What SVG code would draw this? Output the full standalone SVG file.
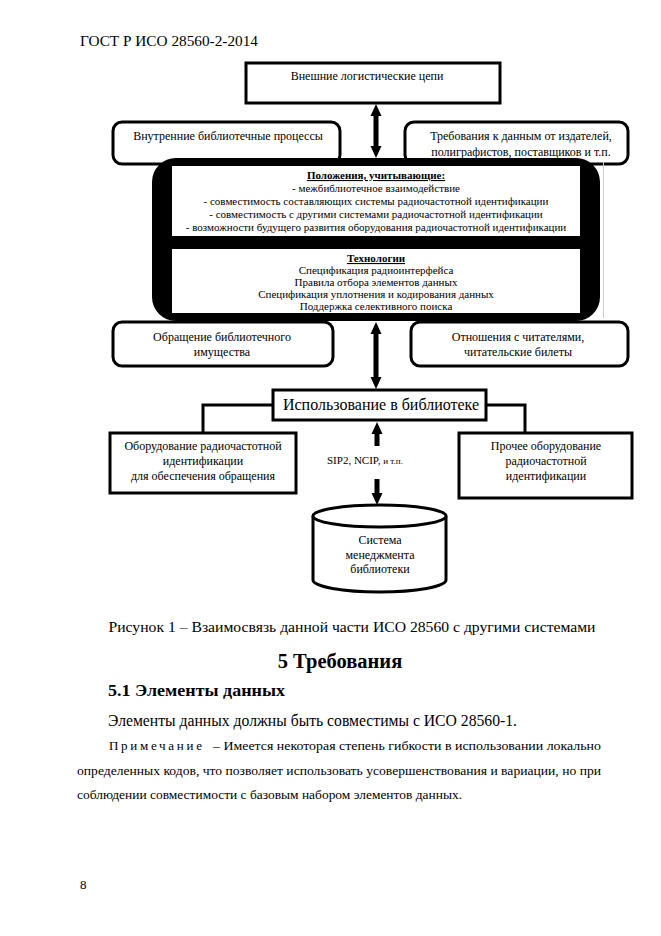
<svg xmlns="http://www.w3.org/2000/svg" width="661" height="936" viewBox="0 0 661 936" font-family="'Liberation Serif', 'Times New Roman', Tinos, 'DejaVu Serif', serif">
<style>
text{font-family:'Liberation Serif','Times New Roman',Tinos,'DejaVu Serif',serif;fill:#000}
.box{fill:#fff;stroke:#000;stroke-width:3}
.ln{fill:none;stroke:#000;stroke-width:3}
.s11{font-size:11px}
.s12{font-size:12px}
.c{text-anchor:middle}
.arr{fill:#000;stroke:none}
</style>
<rect width="661" height="936" fill="#fff"/>

<text x="80" y="46" font-size="15" textLength="178" lengthAdjust="spacingAndGlyphs">ГОСТ Р ИСО 28560-2-2014</text>

<g id="external">
<rect class="box" x="246" y="63" width="254" height="40"/>
<text class="s12 c" x="367" y="80">Внешние логистические цепи</text>
</g>

<g id="internal">
<rect class="box" x="113" y="122" width="227" height="42" rx="9"/>
<text class="s12 c" x="228" y="140">Внутренние библиотечные процессы</text>
</g>

<g id="publishers">
<rect class="box" x="405" y="122" width="223" height="42" rx="9"/>
<text class="s12 c" x="521" y="140">Требования к данным от издателей,</text>
<text class="s12 c" x="521" y="156">полиграфистов, поставщиков и т.п.</text>
</g>

<g id="core">
<rect x="603" y="162" width="1" height="156" fill="#ccc"/>
<rect x="152" y="158" width="448" height="163" rx="24" fill="#000"/>
<rect x="172" y="166" width="408" height="70" fill="#fff"/>
<rect x="172" y="249" width="408" height="64" fill="#fff"/>
<text class="s11 c" x="376" y="179" font-weight="bold" text-decoration="underline">Положения, учитывающие:</text>
<text class="s11 c" x="376" y="192">- межбиблиотечное взаимодействие</text>
<text class="s11 c" x="376" y="205">- совместимость составляющих системы радиочастотной идентификации</text>
<text class="s11 c" x="376" y="218">- совместимость с другими системами радиочастотной идентификации</text>
<text class="s11 c" x="376" y="231">- возможности будущего развития оборудования радиочастотной идентификации</text>
<text class="s11 c" x="376" y="262" font-weight="bold" text-decoration="underline">Технологии</text>
<text class="s11 c" x="376" y="274">Спецификация радиоинтерфейса</text>
<text class="s11 c" x="376" y="286">Правила отбора элементов данных</text>
<text class="s11 c" x="376" y="298">Спецификация уплотнения и кодирования данных</text>
<text class="s11 c" x="376" y="310">Поддержка селективного поиска</text>
</g>

<g id="circulation">
<rect class="box" x="113" y="322" width="220" height="44" rx="9"/>
<text class="s12 c" x="222" y="341">Обращение библиотечного</text>
<text class="s12 c" x="222" y="356">имущества</text>
</g>

<g id="patrons">
<rect class="box" x="411" y="322" width="217" height="44" rx="9"/>
<text class="s12 c" x="518" y="341">Отношения с читателями,</text>
<text class="s12 c" x="518" y="356">читательские билеты</text>
</g>

<g id="usage">
<rect class="box" x="273" y="390" width="213" height="30"/>
<text class="c" x="381" y="410" font-size="16">Использование в библиотеке</text>
</g>

<g id="rfid-circulation">
<rect class="box" x="110" y="433" width="186" height="60"/>
<text class="s12 c" x="203" y="450">Оборудование радиочастотной</text>
<text class="s12 c" x="203" y="465">идентификации</text>
<text class="s12 c" x="203" y="480">для обеспечения обращения</text>
</g>

<g id="rfid-other">
<rect class="box" x="459" y="433" width="173" height="65"/>
<text class="s12 c" x="546" y="450">Прочее оборудование</text>
<text class="s12 c" x="546" y="465">радиочастотной</text>
<text class="s12 c" x="546" y="480">идентификации</text>
</g>

<g id="lms">
<path class="box" d="M313,516 L313,580 A66.5,12 0 0 0 446,580 L446,516"/>
<ellipse class="box" cx="379.5" cy="516" rx="66.5" ry="11"/>
<text class="s12 c" x="380" y="544">Система</text>
<text class="s12 c" x="380" y="559">менеджмента</text>
<text class="s12 c" x="380" y="573">библиотеки</text>
</g>

<g id="connectors">
<polygon class="arr" points="376,104 381.5,116 378.5,116 378.5,146 381.5,146 376,158 370.5,146 373.5,146 373.5,116 370.5,116"/>
<polygon class="arr" points="376,322 381.5,334 378.5,334 378.5,377 381.5,377 376,389 370.5,377 373.5,377 373.5,334 370.5,334"/>
<polyline class="ln" points="203,433 203,405 273,405"/>
<polyline class="ln" points="486,405 525,405 525,433"/>
<polygon class="arr" points="377,422 382.5,434 379.5,434 379.5,446 374.5,446 374.5,434 371.5,434"/>
<polygon class="arr" points="374.5,479 379.5,479 379.5,493 382.5,493 377,505 371.5,493 374.5,493"/>
<text x="327" y="464" font-size="11">SIP2, NCIP, <tspan font-size="9">и т.п.</tspan></text>
</g>

<text class="c" x="352" y="632" font-size="15" textLength="487" lengthAdjust="spacingAndGlyphs">Рисунок 1 – Взаимосвязь данной части ИСО 28560 с другими системами</text>
<text class="c" x="340" y="668" font-size="20.5" font-weight="bold">5 Требования</text>
<text x="108" y="696" font-size="17.5" font-weight="bold" textLength="177" lengthAdjust="spacingAndGlyphs">5.1 Элементы данных</text>
<text x="108" y="726" font-size="16" textLength="409" lengthAdjust="spacingAndGlyphs">Элементы данных должны быть совместимы с ИСО 28560-1.</text>
<text x="109" y="750" font-size="13" textLength="93" lengthAdjust="spacing">Примечание</text>
<text x="213" y="750" font-size="13" textLength="388" lengthAdjust="spacingAndGlyphs">– Имеется некоторая степень гибкости в использовании локально</text>
<text x="77" y="775" font-size="13" textLength="524" lengthAdjust="spacingAndGlyphs">определенных кодов, что позволяет использовать усовершенствования и вариации, но при</text>
<text x="77" y="799" font-size="13" textLength="385" lengthAdjust="spacingAndGlyphs">соблюдении совместимости с базовым набором элементов данных.</text>
<text x="80" y="889" font-size="13">8</text>
</svg>
